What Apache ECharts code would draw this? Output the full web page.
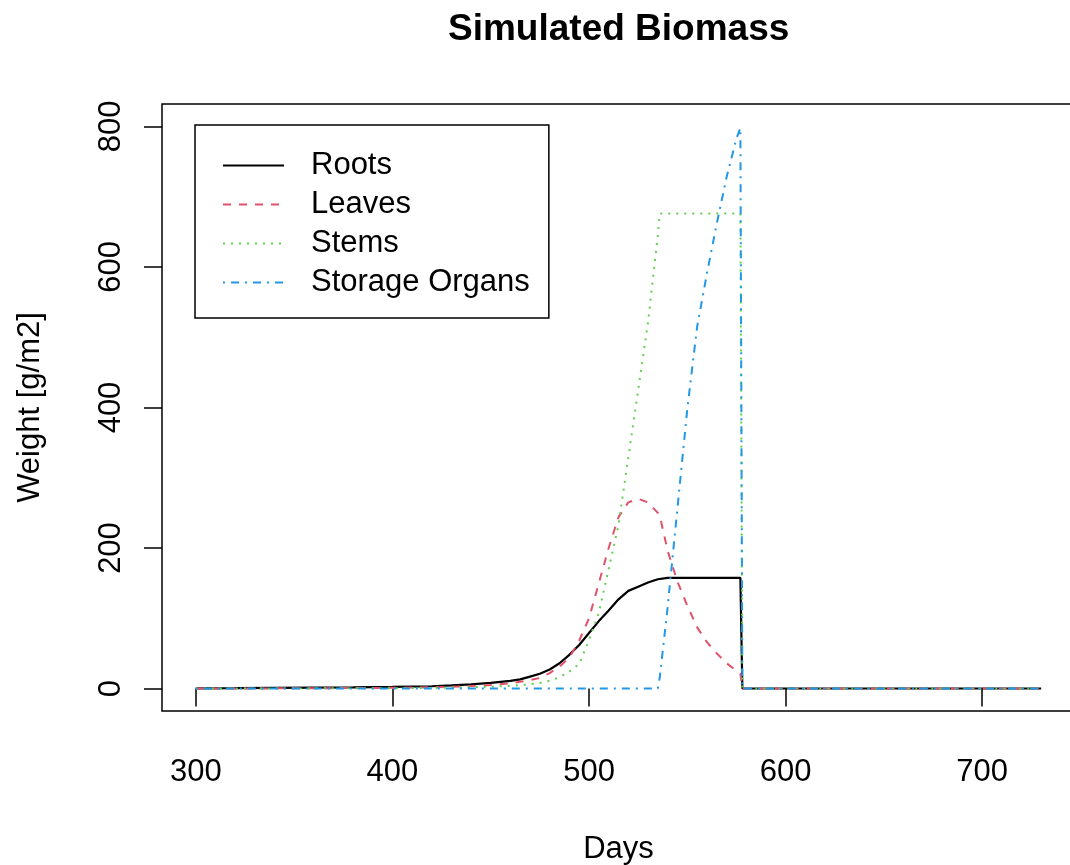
<!DOCTYPE html>
<html>
<head>
<meta charset="utf-8">
<script src="https://cdn.jsdelivr.net/npm/echarts@6/dist/echarts.min.js"></script>
<style>
html,body{margin:0;padding:0;background:#fff;}
#chart{width:1070px;height:865px;}
</style>
</head>
<body>
<div id="chart"></div>
<script>
// ---- data ----
var days = [300,320,340,360,380,400,420,430,440,450,460,465,470,475,480,485,490,495,500,505,510,515,520,525,530,535,536,540,545,550,555,560,565,570,575,577,578,600,650,700,730];
var roots = [0.3,0.5,0.8,1.2,1.7,2.3,3.2,4.5,6,8,11,13,17,21,27,36,48,62,79,96,111,127,139,145,151,155.5,156,157.5,157.5,157.5,157.5,157.5,157.5,157.5,157.5,157.5,0,0,0,0,0];
var leaves = [0,0.1,0.2,0.4,0.7,1,1.8,2.5,3.5,5,7.5,9.5,12,15,22,31,44,68,100,150,200,244,265,270,265,250,246,196,152,118,87,66,50,36,25,21,0,0,0,0,0];
var stems = [0,0,0.1,0.2,0.3,0.5,0.9,1.3,1.8,2.6,3.8,4.8,6,8,11,16,24,35,69,108,170,233,329,425,521,645,676,676,676,676,676,676,676,676,676,676,0,0,0,0,0];
var storage = [0,0,0,0,0,0,0,0,0,0,0,0,0,0,0,0,0,0,0,0,0,0,0,0,0,0,16,116,257,398,515,591,662,728,783,798,0,0,0,0,0];
var seriesNames = ['Roots','Leaves','Stems','Storage Organs'];
var xTicks = [300,400,500,600,700];
var yTicks = [0,200,400,600,800];

function pairs(vals){ return days.map(function(d,i){ return [d, vals[i]]; }); }

var FONT = "'Liberation Sans', Arial, Helvetica, sans-serif";
var chart = echarts.init(document.getElementById('chart'), null, {renderer:'canvas'});

var option = {
  animation: false,
  backgroundColor: '#ffffff',
  textStyle: {fontFamily: FONT},
  title: {
    text: 'Simulated Biomass',
    left: 443, top: 6,
    textStyle: {fontFamily: FONT, fontSize: 37, fontWeight: 'bold', color: '#000'}
  },
  legend: {
    orient: 'vertical',
    left: 195, top: 125,
    backgroundColor: '#fff',
    borderColor: '#000', borderWidth: 1.5, borderRadius: 0,
    padding: [25, 19, 20, 27],
    itemWidth: 61, itemHeight: 14, itemGap: 8,
    itemStyle: {opacity: 0},
    data: seriesNames,
    textStyle: {fontFamily: FONT, fontSize: 31, color: '#000', lineHeight: 30, padding: [0,0,0,22]}
  },
  grid: {
    left: 162, top: 104, width: 913, height: 607,
    outerBoundsMode: 'none', containLabel: false,
    show: true, borderColor: '#000', borderWidth: 1.5, backgroundColor: 'transparent'
  },
  xAxis: {
    type: 'value', min: 282.8, max: 747.2,
    name: 'Days', nameLocation: 'middle', nameGap: 123,
    nameTextStyle: {fontFamily: FONT, fontSize: 31, color: '#000'},
    axisLine: {show: false},
    splitLine: {show: false},
    axisTick: {show: true, customValues: xTicks, length: 18, lineStyle: {color: '#000', width: 1.5}},
    axisLabel: {customValues: xTicks, margin: 46, fontFamily: FONT, fontSize: 31, color: '#000'}
  },
  yAxis: {
    type: 'value', min: -32, max: 832,
    name: 'Weight [g/m2]', nameLocation: 'middle', nameGap: 116,
    nameTextStyle: {fontFamily: FONT, fontSize: 31, color: '#000'},
    axisLine: {show: false},
    splitLine: {show: false},
    axisTick: {show: true, customValues: yTicks, length: 18, lineStyle: {color: '#000', width: 1.5}},
    axisLabel: {customValues: yTicks, rotate: 90, margin: 35, fontFamily: FONT, fontSize: 31, color: '#000'}
  },
  series: [
    {name: 'Roots', type: 'line', data: pairs(roots), symbol: 'none', color: '#000000',
     lineStyle: {color: '#000000', width: 2.2, type: 'solid'}},
    {name: 'Leaves', type: 'line', data: pairs(leaves), symbol: 'none', color: '#DF536B',
     lineStyle: {color: '#DF536B', width: 2, type: [8, 8]}},
    {name: 'Stems', type: 'line', data: pairs(stems), symbol: 'none', color: '#61D04F',
     lineStyle: {color: '#61D04F', width: 2, type: [2, 6]}},
    {name: 'Storage Organs', type: 'line', data: pairs(storage), symbol: 'none', color: '#2297E6',
     lineStyle: {color: '#2297E6', width: 2, type: [2, 6, 8, 6]}}
  ]
};
chart.setOption(option);
</script>
</body>
</html>
